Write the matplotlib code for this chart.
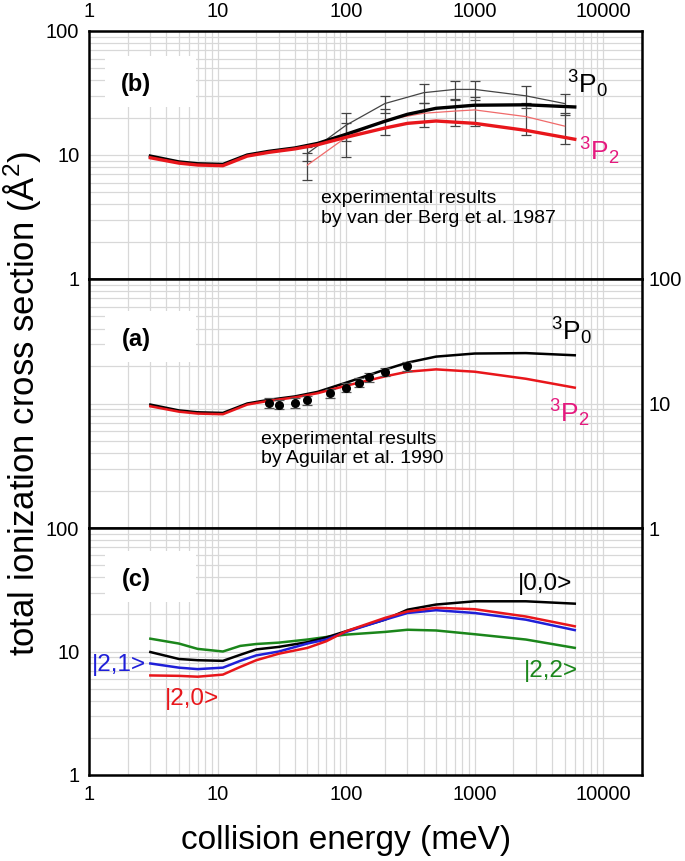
#!/usr/bin/env python3

import numpy as np
import matplotlib
matplotlib.use("Agg")
import matplotlib.pyplot as plt
from matplotlib.patches import Rectangle
from matplotlib.ticker import NullFormatter

plt.rcParams['font.family'] = ['Liberation Sans', 'DejaVu Sans']
plt.rcParams['mathtext.default'] = 'regular'

# theory, 3P0 / 3P2 (panels a and b)
E_th = [3, 5, 7, 11, 17, 25, 40, 60, 100, 200, 300, 500, 1000, 2500, 6000]
p0_th = [9.8, 8.8, 8.5, 8.4, 10.0, 10.7, 11.4, 12.4, 14.7, 18.7, 21.3, 23.8, 25.2, 25.4, 24.4]
p2_th = [9.5, 8.6, 8.3, 8.2, 9.8, 10.5, 11.2, 12.1, 13.9, 16.5, 18.0, 18.8, 18.0, 15.8, 13.4]

# van der Berg et al. 1987
E_vdb = [50, 100, 200, 400, 700, 1000, 2500, 5000]
p0_vdb = [10.3, 17.4, 26.0, 31.8, 33.8, 33.8, 30.0, 26.0]
p0_vdb_err = [1.3, 4.5, 4.0, 5.5, 6.0, 6.0, 6.0, 5.0]
p2_vdb = [8.3, 13.9, 19.1, 21.7, 22.6, 23.1, 20.4, 17.1]
p2_vdb_err = [2.0, 4.2, 4.5, 4.8, 5.5, 6.0, 6.0, 4.8]

# Aguilar et al. 1990
E_ag = [25, 30, 40, 50, 75, 100, 125, 150, 200, 300]
s_ag = [10.1, 9.8, 10.1, 10.6, 12.1, 13.4, 14.7, 16.3, 18.0, 19.9]
s_ag_err = [0.9, 0.8, 0.9, 0.9, 1.0, 1.1, 1.2, 1.3, 1.4, 1.5]

# panel c, |j,m> states
E_c = [3, 5, 7, 11, 15, 20, 30, 50, 70, 100, 200, 300, 500, 1000, 2500, 6000]
s00 = [9.9, 8.7, 8.5, 8.4, 9.4, 10.4, 10.9, 11.9, 13.0, 14.6, 18.1, 21.8, 24.0, 25.5, 25.5, 24.4]
s20 = [6.4, 6.35, 6.25, 6.5, 7.5, 8.5, 9.6, 10.7, 12.1, 14.6, 18.7, 21.1, 22.6, 22.0, 19.2, 16.0]
s21 = [8.0, 7.4, 7.2, 7.4, 8.4, 9.3, 10.0, 11.6, 12.5, 14.4, 18.1, 20.5, 21.6, 20.5, 18.1, 14.9]
s22 = [12.7, 11.6, 10.5, 10.0, 11.1, 11.5, 11.8, 12.5, 13.1, 13.7, 14.4, 15.0, 14.8, 13.8, 12.5, 10.7]

x_ticks = [1, 10, 100, 1000, 10000]
y_ticks = [1, 10, 100]

RED = '#e8161b'
PINK = '#e5197e'
BLUE = '#1f1fd8'
GREEN = '#1b861b'


def setup(ax, xside, yside, tag, box_y):
    ax.set_xscale('log')
    ax.set_yscale('log')
    ax.set_xlim(1, 20000)
    ax.set_ylim(1, 100)
    ax.set_axisbelow(True)
    ax.grid(which='both', color='#d8d8d8', linewidth=0.9)
    ax.set_xticks(x_ticks, [str(v) for v in x_ticks])
    ax.set_yticks(y_ticks, [str(v) for v in y_ticks])
    ax.xaxis.set_minor_formatter(NullFormatter())
    ax.yaxis.set_minor_formatter(NullFormatter())
    ax.tick_params(which='both', length=0, labelsize=14.5, pad=7)
    ax.tick_params(axis='x', top=False, bottom=False,
                   labeltop=(xside == 'top'), labelbottom=(xside == 'bottom'))
    ax.tick_params(axis='y', left=False, right=False,
                   labelleft=(yside == 'left'), labelright=(yside == 'right'))
    if yside == 'right':
        ax.tick_params(axis='y', pad=5)
    for sp in ax.spines.values():
        sp.set_linewidth(1.8)
    ax.add_patch(Rectangle((0.029, box_y), 0.165, 0.205, transform=ax.transAxes,
                           facecolor='white', edgecolor='none', zorder=1.5))
    ax.text(0.085, box_y + 0.09, tag, transform=ax.transAxes, fontsize=17,
            fontweight='bold', ha='center', va='center', zorder=3)


fig = plt.figure(figsize=(6.85, 8.61), dpi=100)
L, W = 89 / 685, 553 / 685
axb = fig.add_axes([L, 1 - 279 / 861, W, 248 / 861])
axa = fig.add_axes([L, 1 - 528 / 861, W, 249 / 861])
axc = fig.add_axes([L, 1 - 775 / 861, W, 247 / 861])

# (b)
setup(axb, 'top', 'left', '(b)', 0.694)
axb.errorbar(E_vdb, p0_vdb, yerr=p0_vdb_err, color='#444444', lw=0.9,
             ecolor='#444444', elinewidth=0.9, capsize=3.3, capthick=0.9, zorder=2)
axb.errorbar(E_vdb, p2_vdb, yerr=p2_vdb_err, color='#f06a6a', lw=0.9,
             ecolor='#444444', elinewidth=0.9, capsize=3.3, capthick=0.9, zorder=2)
axb.plot(E_th, p0_th, color='black', lw=2.4, zorder=3)
axb.plot(E_th, p2_th, color=RED, lw=2.4, zorder=3)
axb.text(5200, 37, r'$^3$P$_0$', fontsize=19, ha='left', va='center')
axb.text(6500, 10.8, r'$^3$P$_2$', fontsize=19, ha='left', va='center', color=PINK)
axb.text(64, 3.7, 'experimental results\nby van der Berg et al. 1987',
         fontsize=14, ha='left', va='center', linespacing=1.2)

# (a)
setup(axa, None, 'right', '(a)', 0.667)
axa.plot(E_th, p0_th, color='black', lw=1.8, zorder=3)
axa.plot(E_th, p2_th, color=RED, lw=1.8, zorder=3)
axa.errorbar(E_ag, s_ag, yerr=s_ag_err, fmt='o', color='black', ms=5.5,
             ecolor='#555555', elinewidth=0.9, capsize=3.3, capthick=0.9, zorder=4)
axa.text(3900, 38, r'$^3$P$_0$', fontsize=19, ha='left', va='center')
axa.text(3800, 8.4, r'$^3$P$_2$', fontsize=19, ha='left', va='center', color=PINK)
axa.text(21.6, 4.3, 'experimental results\nby Aguilar et al. 1990',
         fontsize=14, ha='left', va='center', linespacing=1.2)

# (c)
setup(axc, 'bottom', 'left', '(c)', 0.70)
axc.plot(E_c, s22, color=GREEN, lw=1.8)
axc.plot(E_c, s00, color='black', lw=1.8)
axc.plot(E_c, s21, color=BLUE, lw=1.8)
axc.plot(E_c, s20, color=RED, lw=1.8)
axc.text(2150, 35.5, '|0,0>', fontsize=17.5, ha='left', va='center', color='black')
axc.text(2400, 6.9, '|2,2>', fontsize=17.5, ha='left', va='center', color=GREEN)
axc.text(1.05, 7.8, '|2,1>', fontsize=17.5, ha='left', va='center', color=BLUE)
axc.text(3.9, 4.1, '|2,0>', fontsize=17.5, ha='left', va='center', color=RED)

fig.text(0.032, 1 - 403 / 861, 'total ionization cross section (Å$^2$)',
         rotation=90, fontsize=25, ha='center', va='center')
fig.text(346 / 685, 1 - 840 / 861, 'collision energy (meV)',
         fontsize=24, ha='center', va='center')

fig.savefig('out.png', dpi=100)
